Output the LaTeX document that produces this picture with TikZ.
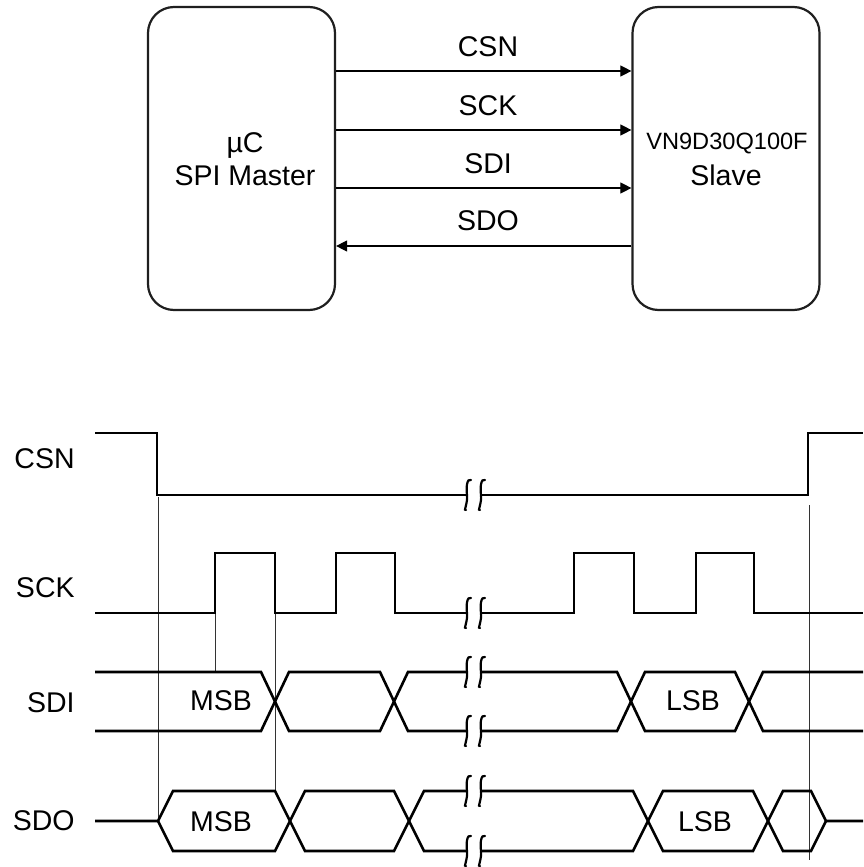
\documentclass[tikz,border=0pt]{standalone}
\usepackage{fontspec}
\setmainfont{Liberation Sans}
\usetikzlibrary{arrows.meta}
\tikzset{
  x=0.5pt, y=-0.5pt,
  txt/.style={font=\fontsize{14.25}{16}\selectfont, inner sep=0pt},
  smalltxt/.style={font=\fontsize{11.8}{14}\selectfont, inner sep=0pt},
  blockbox/.style={draw=black!88, line width=1.1pt, rounded corners=13pt,
    minimum width=93.5pt, minimum height=151.5pt, inner sep=0pt},
  sig/.style={draw=black, line width=0.55pt, -{Triangle[length=5.5pt,width=5.5pt]}},
  wave/.style={draw=black, line width=1.3pt, line join=miter},
  guide/.style={draw=black!80, line width=0.45pt},
  squig/.style={draw=black, line width=1.1pt, line cap=round},
}
\newcommand\wsquig[2]{%
  \draw[squig] ({#1+4},{#2-15}) .. controls ({#1},{#2-17}) and ({#1-1},{#2-8}) .. ({#1},{#2})
     .. controls ({#1+1},{#2+8}) and ({#1-4},{#2+17}) .. ({#1-1},{#2+15});}
\begin{document}
\begin{tikzpicture}
\useasboundingbox (0,0) rectangle (863,867);

% ---------- block diagram ----------
\node[blockbox] (m) at (241.5,158.5) {};
\node[blockbox] (s) at (726,158.5) {};
\node[txt, anchor=base] (m1) at (245,152) {µC};
\node[txt, anchor=base] (m2) at (245,185) {SPI Master};
\node[smalltxt, anchor=base] (s1) at (727,149) {VN9D30Q100F};
\node[txt, anchor=base] (s2) at (726,185) {Slave};

\draw[sig] ([yshift=43.75pt]m.east) -- ([yshift=43.75pt]s.west);
\draw[sig] ([yshift=14.25pt]m.east) -- ([yshift=14.25pt]s.west);
\draw[sig] ([yshift=-14.75pt]m.east) -- ([yshift=-14.75pt]s.west);
\draw[sig] ([yshift=-43.75pt]s.west) -- ([yshift=-43.75pt]m.east);

\node[txt, anchor=base] (lcsn) at (488,56) {CSN};
\node[txt, anchor=base] (lsck) at (488,115) {SCK};
\node[txt, anchor=base] (lsdi) at (488,173) {SDI};
\node[txt, anchor=base] (lsdo) at (488,230) {SDO};

% ---------- timing diagram labels ----------
\node[txt, anchor=east] (tcsn) at (75,459) {CSN};
\node[txt, anchor=east] (tsck) at (75,588) {SCK};
\node[txt, anchor=east] (tsdi) at (75,703) {SDI};
\node[txt, anchor=east] (tsdo) at (75,821) {SDO};

% guides
\draw[guide] (158,497) -- (158,821);
\draw[guide] (215,613) -- (215,672);
\draw[guide] (275,613) -- (275,791);
\draw[guide] (809,505) -- (809,860);

% CSN
\draw[wave] (95,433) -- (157,433) -- (157,495) -- (467,495);
\draw[wave] (481,495) -- (808,495) -- (808,433) -- (863,433);

% SCK
\draw[wave] (95,613) -- (215,613) -- (215,553) -- (275,553) -- (275,613)
  -- (336,613) -- (336,553) -- (395,553) -- (395,613) -- (467,613);
\draw[wave] (481,613) -- (574,613) -- (574,553) -- (634,553) -- (634,613)
  -- (696,613) -- (696,553) -- (754,553) -- (754,613) -- (863,613);

% SDI
\draw[wave] (95,672) -- (261,672) -- (289,731) -- (380,731) -- (408,672) -- (467,672);
\draw[wave] (95,731) -- (261,731) -- (289,672) -- (380,672) -- (408,731) -- (467,731);
\draw[wave] (481,672) -- (617,672) -- (645,731) -- (735,731) -- (763,672) -- (863,672);
\draw[wave] (481,731) -- (617,731) -- (645,672) -- (735,672) -- (763,731) -- (863,731);

% SDO
\draw[wave] (95,821) -- (158,821) -- (173,791) -- (275,791) -- (305,851) -- (394,851)
  -- (424,791) -- (467,791);
\draw[wave] (158,821) -- (173,851) -- (275,851) -- (305,791) -- (394,791) -- (424,851) -- (467,851);
\draw[wave] (481,791) -- (633,791) -- (663,851) -- (753,851) -- (783,791) -- (811,791)
  -- (826,821) -- (863,821);
\draw[wave] (481,851) -- (633,851) -- (663,791) -- (753,791) -- (783,851) -- (811,851) -- (826,821);

% data labels
\node[txt] (msb1) at (221,701) {MSB};
\node[txt] (msb2) at (221,822) {MSB};
\node[txt] (lsb1) at (693,701) {LSB};
\node[txt] (lsb2) at (705,822) {LSB};

% breaks
\foreach \yy in {495,613,672,731,791,851} {
  \wsquig{467}{\yy}
  \wsquig{481}{\yy}
}
\end{tikzpicture}
\end{document}
